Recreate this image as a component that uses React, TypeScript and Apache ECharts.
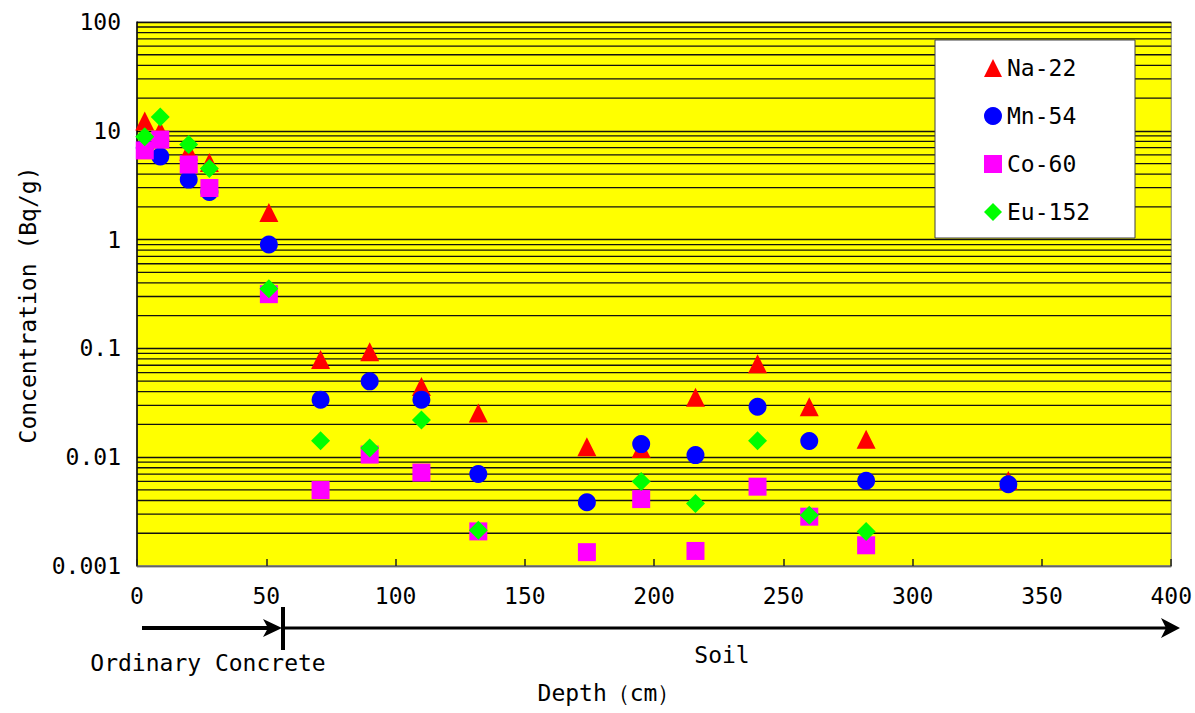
import React, { useEffect, useRef } from "react";
import * as echarts from "echarts";

const depths = [3, 9, 20, 28, 51, 71, 90, 110, 132, 174, 195, 216, 240, 260, 282, 337];
const na22 = [12.3, 10, 6.5, 5.1, 1.77, 0.079, 0.093, 0.0447, 0.0255, 0.0125, 0.012, 0.0355, 0.0724, 0.0291, 0.0146, 0.0061];
const mn54 = [7.0, 5.8, 3.56, 2.74, 0.9, 0.0338, 0.0498, 0.0338, 0.007, 0.00386, 0.0132, 0.01045, 0.0291, 0.0141, 0.00607, 0.00565];
const co60 = [6.6, 8.3, 4.9, 2.98, 0.315, 0.00499, 0.01057, 0.00723, 0.00208, 0.00134, 0.00412, 0.001375, 0.00536, 0.00284, 0.00155, null];
const eu152 = [8.8, 13.4, 7.5, 4.5, 0.353, 0.01416, 0.01213, 0.022, 0.00213, null, 0.00597, 0.00375, 0.01416, 0.00293, 0.00207, null];

const seriesNames = ["Na-22", "Mn-54", "Co-60", "Eu-152"];
const yTickLabels = ["0.001", "0.01", "0.1", "1", "10", "100"];
const decades = [0.001, 0.01, 0.1, 1, 10];
const minorMultipliers = [2, 3, 4, 5, 6, 7, 8, 9];

const FONT = "'DejaVu Sans Mono', monospace";
const FS = 23;

function pairs(vals: (number | null)[]) {
  const out: [number, number][] = [];
  vals.forEach((v, i) => {
    if (v !== null) out.push([depths[i], v]);
  });
  return out;
}

export default function App() {
  const ref = useRef<HTMLDivElement>(null);
  useEffect(() => {
    if (!ref.current) return;
    const chart = echarts.init(ref.current, undefined, { renderer: "svg" });
    const minorLines: [number, number][] = [];
    decades.forEach((d) => minorMultipliers.forEach((m) => minorLines.push([0, d * m])));

    const gL = 137, gT = 22, gR = 1174, gB = 566;
    const txt = (text: string, x: number, y: number, extra: any = {}) => ({
      type: "text", x, y, ...extra,
      style: { text, fontSize: FS, fontFamily: FONT, fill: "#000", textAlign: "center", textVerticalAlign: "middle" },
    });
    const option: any = {
      animation: false,
      backgroundColor: "#ffffff",
      grid: {
        left: gL, top: gT, right: 1195 - gR, bottom: 713 - gB,
        show: true, backgroundColor: "#ffff00", borderColor: "#808080", borderWidth: 1,
      },
      xAxis: {
        type: "value", min: 0, max: 400, interval: 50,
        axisLine: { show: true, lineStyle: { color: "#808080", width: 1.5 } },
        axisTick: { show: true, inside: true, length: 7, lineStyle: { color: "#222", width: 1.5 } },
        splitLine: { show: false },
        axisLabel: { show: true, margin: 18, fontSize: FS, fontFamily: FONT, color: "#000" },
      },
      yAxis: {
        type: "log", logBase: 10, min: 0.001, max: 100,
        axisLine: { show: true, lineStyle: { color: "#000", width: 1.5 } },
        axisTick: { show: false },
        splitLine: { show: true, lineStyle: { color: "#111", width: 1.3 } },
        axisLabel: {
          margin: 16, fontSize: FS, fontFamily: FONT, color: "#000",
          formatter: (v: number) => yTickLabels[Math.round(Math.log10(v)) + 3],
        },
      },
      legend: {
        data: seriesNames,
        orient: "vertical", left: 984, top: 55, padding: 0,
        itemGap: 22, itemWidth: 18, itemHeight: 18,
        textStyle: { fontSize: FS, fontFamily: FONT, color: "#000", lineHeight: 26 },
        z: 10,
      },
      graphic: [
        { type: "rect", z: 6, shape: { x: 935, y: 40, width: 200, height: 198 }, style: { fill: "#fff", stroke: "#404040", lineWidth: 1 } },
        { type: "line", shape: { x1: 142, y1: 628, x2: 276, y2: 628 }, style: { stroke: "#000", lineWidth: 4 } },
        { type: "polygon", shape: { points: [[263, 619], [282, 628], [263, 637], [268, 628]] }, style: { fill: "#000" } },
        { type: "line", shape: { x1: 283, y1: 607, x2: 283, y2: 650 }, style: { stroke: "#000", lineWidth: 4 } },
        { type: "line", shape: { x1: 283, y1: 628, x2: 1172, y2: 628 }, style: { stroke: "#000", lineWidth: 3 } },
        { type: "polygon", shape: { points: [[1161, 618], [1180, 628], [1161, 638], [1166, 628]] }, style: { fill: "#000" } },
        txt("Ordinary Concrete", 208, 663),
        txt("Soil", 722, 655),
        txt("Depth（cm）", 609, 693),
        txt("Concentration (Bq/g)", 28, 305, { rotation: Math.PI / 2 }),
      ],
      series: [
        {
          type: "custom", name: "grid-minor", data: minorLines, silent: true, z: 1,
          clip: true,
          renderItem: (params: any, api: any) => {
            const cs = params.coordSys;
            const y = api.coord([0, api.value(1)])[1];
            return {
              type: "line",
              shape: { x1: cs.x, y1: y, x2: cs.x + cs.width, y2: y },
              style: { stroke: "#111", lineWidth: 1.3 },
            };
          },
        },
        { type: "scatter", name: seriesNames[0], data: pairs(na22), symbol: "triangle", symbolSize: 19, itemStyle: { color: "#ff0000", opacity: 1 }, z: 5 },
        { type: "scatter", name: seriesNames[1], data: pairs(mn54), symbol: "circle", symbolSize: 18, itemStyle: { color: "#0000ff", opacity: 1 }, z: 6 },
        { type: "scatter", name: seriesNames[2], data: pairs(co60), symbol: "rect", symbolSize: 18, itemStyle: { color: "#ff00ff", opacity: 1 }, z: 7 },
        { type: "scatter", name: seriesNames[3], data: pairs(eu152), symbol: "diamond", symbolSize: 19, itemStyle: { color: "#00ff00", opacity: 1 }, z: 8 },
      ],
    };
    chart.setOption(option);
    return () => chart.dispose();
  }, []);
  return <div ref={ref} style={{ position: "absolute", left: 0, top: 0, width: 1195, height: 713 }} />;
}
